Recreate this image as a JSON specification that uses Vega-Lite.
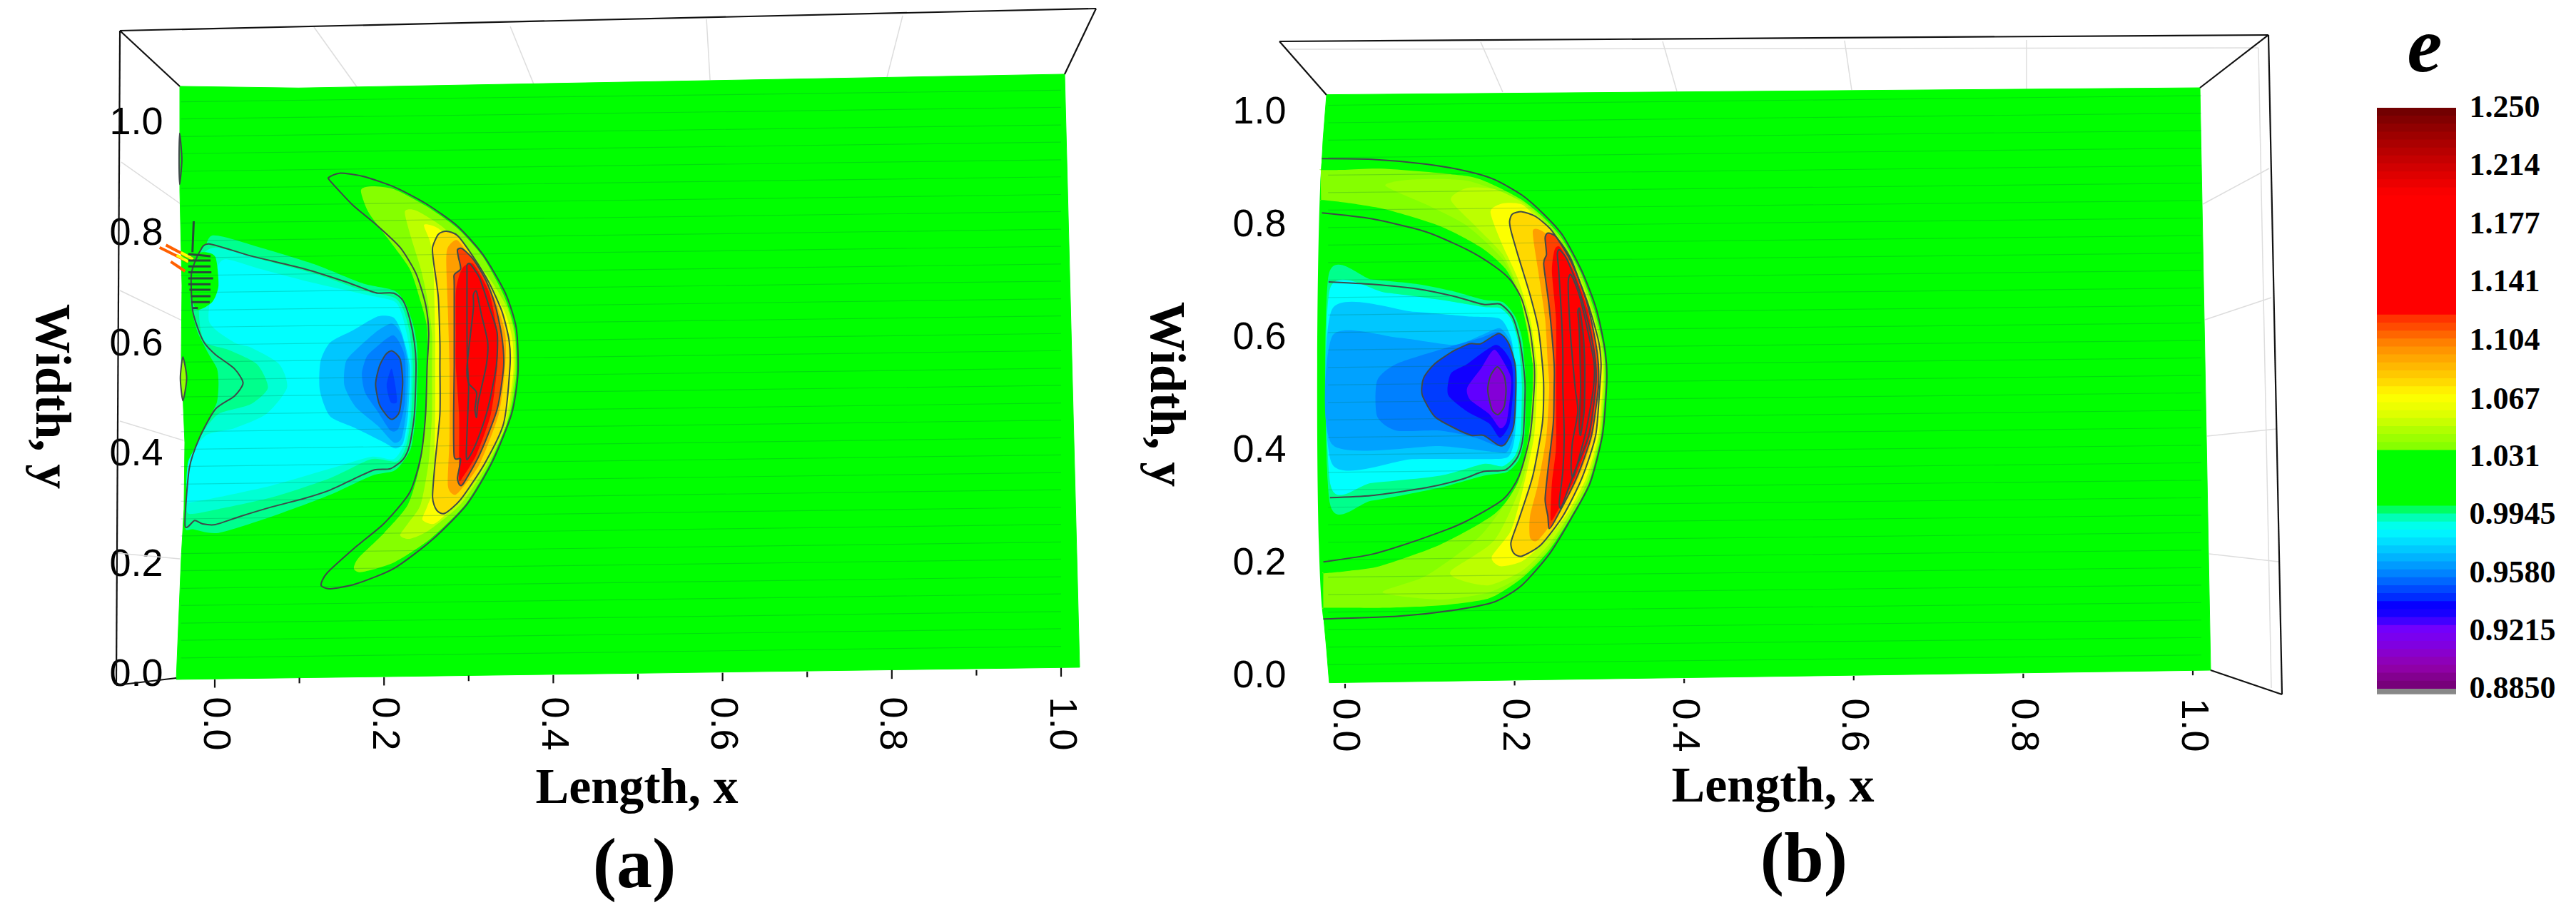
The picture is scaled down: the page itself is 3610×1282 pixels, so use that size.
{
"$schema":"https://vega.github.io/schema/vega-lite/v6.json",
"background":"white","padding":0,"autosize":"pad","bounds":"flush","spacing":0,
"config":{"view":{"stroke":null}},
"datasets":{
"surfA":[{"x":-0.0413,"y":1.066},{"x":-0.0413,"y":0.877},{"x":-0.0388,"y":0.705},{"x":-0.0396,"y":0.576},{"x":-0.0354,"y":0.42},{"x":-0.0363,"y":0.3},{"x":-0.0396,"y":0.213},{"x":-0.0455,"y":-0.009},{"x":1.0219,"y":0.013},{"x":1.0042,"y":1.088},{"x":0.0987,"y":1.063}],
"surfB":[{"x":-0.0218,"y":1.0308},{"x":-0.026,"y":0.9498},{"x":-0.0286,"y":0.8739},{"x":-0.0273,"y":0.8021},{"x":-0.0202,"y":0.7009},{"x":-0.0153,"y":0.6123},{"x":-0.0144,"y":0.5532},{"x":-0.0144,"y":0.511},{"x":-0.0153,"y":0.3844},{"x":-0.0179,"y":0.3169},{"x":-0.0234,"y":0.2367},{"x":-0.0256,"y":0.1734},{"x":-0.0256,"y":0.1101},{"x":-0.0218,"y":0.0469},{"x":-0.0186,"y":-0.0122},{"x":1.021,"y":0.0101},{"x":1.0084,"y":1.043}],
"polyA":[
{"s":"C0","e":1.0,"c":1,"x":0.135,"y":0.9012},{"s":"C0","e":1.0,"c":1,"x":0.1475,"y":0.9086},{"s":"C0","e":1.0,"c":1,"x":0.1738,"y":0.9034},{"s":"C0","e":1.0,"c":1,"x":0.2114,"y":0.884},{"s":"C0","e":1.0,"c":1,"x":0.2491,"y":0.8538},{"s":"C0","e":1.0,"c":1,"x":0.2867,"y":0.8128},{"s":"C0","e":1.0,"c":1,"x":0.3168,"y":0.7611},{"s":"C0","e":1.0,"c":1,"x":0.3431,"y":0.6921},{"s":"C0","e":1.0,"c":1,"x":0.3563,"y":0.6274},{"s":"C0","e":1.0,"c":1,"x":0.3582,"y":0.5455},{"s":"C0","e":1.0,"c":1,"x":0.3507,"y":0.4722},{"s":"C0","e":1.0,"c":1,"x":0.3281,"y":0.386},{"s":"C0","e":1.0,"c":1,"x":0.298,"y":0.3084},{"s":"C0","e":1.0,"c":1,"x":0.2566,"y":0.2437},{"s":"C0","e":1.0,"c":1,"x":0.2114,"y":0.1919},{"s":"C0","e":1.0,"c":1,"x":0.1663,"y":0.1639},{"s":"C0","e":1.0,"c":1,"x":0.1362,"y":0.1553},{"s":"C0","e":1.0,"c":1,"x":0.1256,"y":0.1618},{"s":"C0","e":1.0,"c":1,"x":0.1324,"y":0.1833},{"s":"C0","e":1.0,"c":1,"x":0.1663,"y":0.2308},{"s":"C0","e":1.0,"c":1,"x":0.2001,"y":0.2739},{"s":"C0","e":1.0,"c":1,"x":0.2303,"y":0.3299},{"s":"C0","e":1.0,"c":1,"x":0.2434,"y":0.3946},{"s":"C0","e":1.0,"c":1,"x":0.2491,"y":0.4722},{"s":"C0","e":1.0,"c":1,"x":0.2509,"y":0.5585},{"s":"C0","e":1.0,"c":1,"x":0.2528,"y":0.6188},{"s":"C0","e":1.0,"c":1,"x":0.2491,"y":0.6705},{"s":"C0","e":1.0,"c":1,"x":0.2378,"y":0.7266},{"s":"C0","e":1.0,"c":1,"x":0.219,"y":0.774},{"s":"C0","e":1.0,"c":1,"x":0.1926,"y":0.8128},{"s":"C0","e":1.0,"c":1,"x":0.1625,"y":0.8516},{"s":"C0","e":1.0,"c":1,"x":0.1362,"y":0.8948},
{"s":"L1","e":1.037,"x":0.1727,"y":0.8775},{"s":"L1","e":1.037,"x":0.1851,"y":0.8849},{"s":"L1","e":1.037,"x":0.2114,"y":0.8797},{"s":"L1","e":1.037,"x":0.2491,"y":0.8495},{"s":"L1","e":1.037,"x":0.2867,"y":0.8085},{"s":"L1","e":1.037,"x":0.3168,"y":0.7568},{"s":"L1","e":1.037,"x":0.3413,"y":0.6878},{"s":"L1","e":1.037,"x":0.3544,"y":0.6231},{"s":"L1","e":1.037,"x":0.3563,"y":0.5455},{"s":"L1","e":1.037,"x":0.3488,"y":0.4722},{"s":"L1","e":1.037,"x":0.3262,"y":0.386},{"s":"L1","e":1.037,"x":0.2961,"y":0.3084},{"s":"L1","e":1.037,"x":0.2547,"y":0.2458},{"s":"L1","e":1.037,"x":0.2114,"y":0.2027},{"s":"L1","e":1.037,"x":0.1738,"y":0.1855},{"s":"L1","e":1.037,"x":0.1644,"y":0.1919},{"s":"L1","e":1.037,"x":0.17,"y":0.2114},{"s":"L1","e":1.037,"x":0.2001,"y":0.2566},{"s":"L1","e":1.037,"x":0.2284,"y":0.3084},{"s":"L1","e":1.037,"x":0.2434,"y":0.386},{"s":"L1","e":1.037,"x":0.2491,"y":0.4722},{"s":"L1","e":1.037,"x":0.2509,"y":0.5585},{"s":"L1","e":1.037,"x":0.2509,"y":0.6274},{"s":"L1","e":1.037,"x":0.2434,"y":0.6749},{"s":"L1","e":1.037,"x":0.2303,"y":0.7352},{"s":"L1","e":1.037,"x":0.2039,"y":0.7913},{"s":"L1","e":1.037,"x":0.1813,"y":0.8387},
{"s":"L2","e":1.05,"x":0.2246,"y":0.8387},{"s":"L2","e":1.05,"x":0.2378,"y":0.8409},{"s":"L2","e":1.05,"x":0.2679,"y":0.8128},{"s":"L2","e":1.05,"x":0.2942,"y":0.774},{"s":"L2","e":1.05,"x":0.3206,"y":0.7266},{"s":"L2","e":1.05,"x":0.345,"y":0.6662},{"s":"L2","e":1.05,"x":0.3544,"y":0.6102},{"s":"L2","e":1.05,"x":0.3544,"y":0.5455},{"s":"L2","e":1.05,"x":0.345,"y":0.455},{"s":"L2","e":1.05,"x":0.3206,"y":0.3774},{"s":"L2","e":1.05,"x":0.2905,"y":0.3084},{"s":"L2","e":1.05,"x":0.2528,"y":0.2609},{"s":"L2","e":1.05,"x":0.2303,"y":0.2458},{"s":"L2","e":1.05,"x":0.219,"y":0.2523},{"s":"L2","e":1.05,"x":0.2284,"y":0.2739},{"s":"L2","e":1.05,"x":0.2434,"y":0.3084},{"s":"L2","e":1.05,"x":0.2528,"y":0.386},{"s":"L2","e":1.05,"x":0.2566,"y":0.4722},{"s":"L2","e":1.05,"x":0.2566,"y":0.5585},{"s":"L2","e":1.05,"x":0.2566,"y":0.6188},{"s":"L2","e":1.05,"x":0.2509,"y":0.6835},{"s":"L2","e":1.05,"x":0.2434,"y":0.7352},{"s":"L2","e":1.05,"x":0.2321,"y":0.7913},
{"s":"L3","e":1.068,"x":0.2472,"y":0.815},{"s":"L3","e":1.068,"x":0.2641,"y":0.8085},{"s":"L3","e":1.068,"x":0.2905,"y":0.7697},{"s":"L3","e":1.068,"x":0.3168,"y":0.7223},{"s":"L3","e":1.068,"x":0.3413,"y":0.6619},{"s":"L3","e":1.068,"x":0.3514,"y":0.6102},{"s":"L3","e":1.068,"x":0.3526,"y":0.5455},{"s":"L3","e":1.068,"x":0.3431,"y":0.4593},{"s":"L3","e":1.068,"x":0.3168,"y":0.3774},{"s":"L3","e":1.068,"x":0.2867,"y":0.3127},{"s":"L3","e":1.068,"x":0.2604,"y":0.2739},{"s":"L3","e":1.068,"x":0.2453,"y":0.2803},{"s":"L3","e":1.068,"x":0.2509,"y":0.3041},{"s":"L3","e":1.068,"x":0.2585,"y":0.3429},{"s":"L3","e":1.068,"x":0.2604,"y":0.4722},{"s":"L3","e":1.068,"x":0.2604,"y":0.5585},{"s":"L3","e":1.068,"x":0.2604,"y":0.6188},{"s":"L3","e":1.068,"x":0.2585,"y":0.7266},{"s":"L3","e":1.068,"x":0.2547,"y":0.7827},
{"s":"L4","e":1.078,"c":1,"x":0.2573,"y":0.774},{"s":"L4","e":1.078,"c":1,"x":0.2641,"y":0.7977},{"s":"L4","e":1.078,"c":1,"x":0.2735,"y":0.8033},{"s":"L4","e":1.078,"c":1,"x":0.2867,"y":0.7956},{"s":"L4","e":1.078,"c":1,"x":0.3055,"y":0.7568},{"s":"L4","e":1.078,"c":1,"x":0.3243,"y":0.7094},{"s":"L4","e":1.078,"c":1,"x":0.3394,"y":0.6576},{"s":"L4","e":1.078,"c":1,"x":0.3477,"y":0.6058},{"s":"L4","e":1.078,"c":1,"x":0.3488,"y":0.5585},{"s":"L4","e":1.078,"c":1,"x":0.3413,"y":0.455},{"s":"L4","e":1.078,"c":1,"x":0.3187,"y":0.3817},{"s":"L4","e":1.078,"c":1,"x":0.2905,"y":0.317},{"s":"L4","e":1.078,"c":1,"x":0.2717,"y":0.292},{"s":"L4","e":1.078,"c":1,"x":0.2622,"y":0.2976},{"s":"L4","e":1.078,"c":1,"x":0.2573,"y":0.3213},{"s":"L4","e":1.078,"c":1,"x":0.2604,"y":0.386},{"s":"L4","e":1.078,"c":1,"x":0.266,"y":0.4722},{"s":"L4","e":1.078,"c":1,"x":0.266,"y":0.5585},{"s":"L4","e":1.078,"c":1,"x":0.266,"y":0.6015},{"s":"L4","e":1.078,"c":1,"x":0.2641,"y":0.6835},{"s":"L4","e":1.078,"c":1,"x":0.2585,"y":0.7482},
{"s":"L5","e":1.095,"x":0.2754,"y":0.774},{"s":"L5","e":1.095,"x":0.2867,"y":0.787},{"s":"L5","e":1.095,"x":0.3055,"y":0.7482},{"s":"L5","e":1.095,"x":0.33,"y":0.6835},{"s":"L5","e":1.095,"x":0.3431,"y":0.6188},{"s":"L5","e":1.095,"x":0.3431,"y":0.5585},{"s":"L5","e":1.095,"x":0.3356,"y":0.4722},{"s":"L5","e":1.095,"x":0.313,"y":0.3817},{"s":"L5","e":1.095,"x":0.2905,"y":0.3343},{"s":"L5","e":1.095,"x":0.2829,"y":0.3256},{"s":"L5","e":1.095,"x":0.2754,"y":0.3429},{"s":"L5","e":1.095,"x":0.2773,"y":0.4291},{"s":"L5","e":1.095,"x":0.2773,"y":0.5585},{"s":"L5","e":1.095,"x":0.2754,"y":0.6619},{"s":"L5","e":1.095,"x":0.2735,"y":0.7482},
{"s":"L6","e":1.115,"c":1,"x":0.2867,"y":0.7697},{"s":"L6","e":1.115,"c":1,"x":0.2923,"y":0.7719},{"s":"L6","e":1.115,"c":1,"x":0.3055,"y":0.7525},{"s":"L6","e":1.115,"c":1,"x":0.3206,"y":0.7137},{"s":"L6","e":1.115,"c":1,"x":0.3319,"y":0.6662},{"s":"L6","e":1.115,"c":1,"x":0.3394,"y":0.6102},{"s":"L6","e":1.115,"c":1,"x":0.3413,"y":0.5585},{"s":"L6","e":1.115,"c":1,"x":0.3337,"y":0.4809},{"s":"L6","e":1.115,"c":1,"x":0.313,"y":0.3989},{"s":"L6","e":1.115,"c":1,"x":0.2942,"y":0.3472},{"s":"L6","e":1.115,"c":1,"x":0.2897,"y":0.3429},{"s":"L6","e":1.115,"c":1,"x":0.2867,"y":0.3558},{"s":"L6","e":1.115,"c":1,"x":0.2905,"y":0.3903},{"s":"L6","e":1.115,"c":1,"x":0.2829,"y":0.3946},{"s":"L6","e":1.115,"c":1,"x":0.2822,"y":0.4722},{"s":"L6","e":1.115,"c":1,"x":0.2829,"y":0.5585},{"s":"L6","e":1.115,"c":1,"x":0.2829,"y":0.705},{"s":"L6","e":1.115,"c":1,"x":0.2829,"y":0.7244},{"s":"L6","e":1.115,"c":1,"x":0.2905,"y":0.7352},{"s":"L6","e":1.115,"c":1,"x":0.2878,"y":0.7568},
{"s":"L7","e":1.13,"x":0.2942,"y":0.7396},{"s":"L7","e":1.13,"x":0.3055,"y":0.7438},{"s":"L7","e":1.13,"x":0.3243,"y":0.6921},{"s":"L7","e":1.13,"x":0.3337,"y":0.6188},{"s":"L7","e":1.13,"x":0.3337,"y":0.5585},{"s":"L7","e":1.13,"x":0.3262,"y":0.4722},{"s":"L7","e":1.13,"x":0.3093,"y":0.3989},{"s":"L7","e":1.13,"x":0.2923,"y":0.3558},{"s":"L7","e":1.13,"x":0.2886,"y":0.3515},{"s":"L7","e":1.13,"x":0.2886,"y":0.386},{"s":"L7","e":1.13,"x":0.2886,"y":0.4722},{"s":"L7","e":1.13,"x":0.2848,"y":0.5585},{"s":"L7","e":1.13,"x":0.2848,"y":0.6188},{"s":"L7","e":1.13,"x":0.2848,"y":0.6921},{"s":"L7","e":1.13,"x":0.2886,"y":0.7223},
{"s":"L8","e":1.14,"c":1,"x":0.298,"y":0.7417},{"s":"L8","e":1.14,"c":1,"x":0.3018,"y":0.7438},{"s":"L8","e":1.14,"c":1,"x":0.313,"y":0.718},{"s":"L8","e":1.14,"c":1,"x":0.3243,"y":0.6662},{"s":"L8","e":1.14,"c":1,"x":0.3337,"y":0.6188},{"s":"L8","e":1.14,"c":1,"x":0.3326,"y":0.5585},{"s":"L8","e":1.14,"c":1,"x":0.3225,"y":0.4809},{"s":"L8","e":1.14,"c":1,"x":0.3093,"y":0.4205},{"s":"L8","e":1.14,"c":1,"x":0.2999,"y":0.3925},{"s":"L8","e":1.14,"c":1,"x":0.2972,"y":0.3989},{"s":"L8","e":1.14,"c":1,"x":0.2999,"y":0.5154},{"s":"L8","e":1.14,"c":1,"x":0.2987,"y":0.5585},{"s":"L8","e":1.14,"c":1,"x":0.298,"y":0.6188},{"s":"L8","e":1.14,"c":1,"x":0.298,"y":0.7266},
{"s":"L9","e":1.145,"c":1,"x":0.3055,"y":0.6878},{"s":"L9","e":1.145,"c":1,"x":0.3093,"y":0.6943},{"s":"L9","e":1.145,"c":1,"x":0.3149,"y":0.6533},{"s":"L9","e":1.145,"c":1,"x":0.3225,"y":0.6015},{"s":"L9","e":1.145,"c":1,"x":0.3206,"y":0.5585},{"s":"L9","e":1.145,"c":1,"x":0.3112,"y":0.4938},{"s":"L9","e":1.145,"c":1,"x":0.3093,"y":0.4658},{"s":"L9","e":1.145,"c":1,"x":0.3074,"y":0.4809},{"s":"L9","e":1.145,"c":1,"x":0.3093,"y":0.511},{"s":"L9","e":1.145,"c":1,"x":0.2999,"y":0.5283},{"s":"L9","e":1.145,"c":1,"x":0.298,"y":0.5585},{"s":"L9","e":1.145,"c":1,"x":0.3055,"y":0.6619},
{"s":"B0","e":0.9955,"x":-0.0031,"y":0.7956},{"s":"B0","e":0.9955,"x":0.0534,"y":0.774},{"s":"B0","e":0.9955,"x":0.1173,"y":0.7438},{"s":"B0","e":0.9955,"x":0.1738,"y":0.7094},{"s":"B0","e":0.9955,"x":0.2114,"y":0.6964},{"s":"B0","e":0.9955,"x":0.2246,"y":0.6749},{"s":"B0","e":0.9955,"x":0.234,"y":0.636},{"s":"B0","e":0.9955,"x":0.2385,"y":0.6015},{"s":"B0","e":0.9955,"x":0.2397,"y":0.5585},{"s":"B0","e":0.9955,"x":0.2378,"y":0.4722},{"s":"B0","e":0.9955,"x":0.2321,"y":0.4119},{"s":"B0","e":0.9955,"x":0.2227,"y":0.386},{"s":"B0","e":0.9955,"x":0.2114,"y":0.3687},{"s":"B0","e":0.9955,"x":0.1851,"y":0.3601},{"s":"B0","e":0.9955,"x":0.1362,"y":0.3256},{"s":"B0","e":0.9955,"x":0.0684,"y":0.2868},{"s":"B0","e":0.9955,"x":0.0044,"y":0.2566},{"s":"B0","e":0.9955,"x":-0.0257,"y":0.2631},{"s":"B0","e":0.9955,"x":-0.0351,"y":0.2674},{"s":"B0","e":0.9955,"x":-0.0302,"y":0.3601},{"s":"B0","e":0.9955,"x":-0.0181,"y":0.4205},{"s":"B0","e":0.9955,"x":-0.0069,"y":0.4636},{"s":"B0","e":0.9955,"x":0.0026,"y":0.4938},{"s":"B0","e":0.9955,"x":0.0044,"y":0.5283},{"s":"B0","e":0.9955,"x":0.0026,"y":0.5542},{"s":"B0","e":0.9955,"x":-0.0069,"y":0.58},{"s":"B0","e":0.9955,"x":-0.0144,"y":0.6016},{"s":"B0","e":0.9955,"x":-0.0219,"y":0.6274},{"s":"B0","e":0.9955,"x":-0.0287,"y":0.6835},{"s":"B0","e":0.9955,"x":-0.0144,"y":0.7482},
{"s":"BL","e":0.9956,"c":1,"x":-0.0069,"y":0.7805},{"s":"BL","e":0.9956,"c":1,"x":0.0421,"y":0.7589},{"s":"BL","e":0.9956,"c":1,"x":0.106,"y":0.7352},{"s":"BL","e":0.9956,"c":1,"x":0.155,"y":0.7115},{"s":"BL","e":0.9956,"c":1,"x":0.1813,"y":0.6964},{"s":"BL","e":0.9956,"c":1,"x":0.1926,"y":0.6912},{"s":"BL","e":0.9956,"c":1,"x":0.2114,"y":0.6912},{"s":"BL","e":0.9956,"c":1,"x":0.2227,"y":0.677},{"s":"BL","e":0.9956,"c":1,"x":0.2303,"y":0.6447},{"s":"BL","e":0.9956,"c":1,"x":0.2359,"y":0.6015},{"s":"BL","e":0.9956,"c":1,"x":0.2378,"y":0.5585},{"s":"BL","e":0.9956,"c":1,"x":0.2359,"y":0.4722},{"s":"BL","e":0.9956,"c":1,"x":0.2303,"y":0.4162},{"s":"BL","e":0.9956,"c":1,"x":0.2227,"y":0.3903},{"s":"BL","e":0.9956,"c":1,"x":0.2077,"y":0.3731},{"s":"BL","e":0.9956,"c":1,"x":0.1888,"y":0.3709},{"s":"BL","e":0.9956,"c":1,"x":0.1663,"y":0.3558},{"s":"BL","e":0.9956,"c":1,"x":0.1362,"y":0.3343},{"s":"BL","e":0.9956,"c":1,"x":0.106,"y":0.3192},{"s":"BL","e":0.9956,"c":1,"x":0.0684,"y":0.3041},{"s":"BL","e":0.9956,"c":1,"x":0.0308,"y":0.2868},{"s":"BL","e":0.9956,"c":1,"x":0.0007,"y":0.2717},{"s":"BL","e":0.9956,"c":1,"x":-0.0144,"y":0.273},{"s":"BL","e":0.9956,"c":1,"x":-0.0238,"y":0.279},{"s":"BL","e":0.9956,"c":1,"x":-0.0351,"y":0.2696},{"s":"BL","e":0.9956,"c":1,"x":-0.0302,"y":0.3731},{"s":"BL","e":0.9956,"c":1,"x":-0.0181,"y":0.4291},{"s":"BL","e":0.9956,"c":1,"x":0.0007,"y":0.4809},{"s":"BL","e":0.9956,"c":1,"x":0.0232,"y":0.5046},{"s":"BL","e":0.9956,"c":1,"x":0.0334,"y":0.5283},{"s":"BL","e":0.9956,"c":1,"x":0.0232,"y":0.5542},{"s":"BL","e":0.9956,"c":1,"x":0.0007,"y":0.58},{"s":"BL","e":0.9956,"c":1,"x":-0.0125,"y":0.6016},{"s":"BL","e":0.9956,"c":1,"x":-0.02,"y":0.6274},{"s":"BL","e":0.9956,"c":1,"x":-0.0264,"y":0.6619},{"s":"BL","e":0.9956,"c":1,"x":-0.0276,"y":0.7266},{"s":"BL","e":0.9956,"c":1,"x":-0.0181,"y":0.7654},
{"s":"B1","e":0.99,"x":0.0007,"y":0.774},{"s":"B1","e":0.99,"x":0.0534,"y":0.7525},{"s":"B1","e":0.99,"x":0.1173,"y":0.7266},{"s":"B1","e":0.99,"x":0.1738,"y":0.6964},{"s":"B1","e":0.99,"x":0.2114,"y":0.6835},{"s":"B1","e":0.99,"x":0.2227,"y":0.6619},{"s":"B1","e":0.99,"x":0.2303,"y":0.6188},{"s":"B1","e":0.99,"x":0.234,"y":0.5585},{"s":"B1","e":0.99,"x":0.2321,"y":0.4722},{"s":"B1","e":0.99,"x":0.2265,"y":0.4162},{"s":"B1","e":0.99,"x":0.2152,"y":0.386},{"s":"B1","e":0.99,"x":0.1851,"y":0.3903},{"s":"B1","e":0.99,"x":0.1362,"y":0.3558},{"s":"B1","e":0.99,"x":0.0684,"y":0.3213},{"s":"B1","e":0.99,"x":0.0044,"y":0.2997},{"s":"B1","e":0.99,"x":-0.0257,"y":0.2911},{"s":"B1","e":0.99,"x":-0.0332,"y":0.2997},{"s":"B1","e":0.99,"x":-0.0295,"y":0.386},{"s":"B1","e":0.99,"x":-0.0144,"y":0.4377},{"s":"B1","e":0.99,"x":0.0044,"y":0.4722},{"s":"B1","e":0.99,"x":0.0421,"y":0.4895},{"s":"B1","e":0.99,"x":0.0628,"y":0.5197},{"s":"B1","e":0.99,"x":0.0496,"y":0.5628},{"s":"B1","e":0.99,"x":0.0157,"y":0.5887},{"s":"B1","e":0.99,"x":-0.0106,"y":0.6016},{"s":"B1","e":0.99,"x":-0.0181,"y":0.6403},{"s":"B1","e":0.99,"x":-0.0181,"y":0.7482},
{"s":"B2","e":0.985,"x":0.012,"y":0.7525},{"s":"B2","e":0.985,"x":0.0534,"y":0.7352},{"s":"B2","e":0.985,"x":0.1173,"y":0.7094},{"s":"B2","e":0.985,"x":0.1738,"y":0.6899},{"s":"B2","e":0.985,"x":0.2114,"y":0.677},{"s":"B2","e":0.985,"x":0.2209,"y":0.6533},{"s":"B2","e":0.985,"x":0.2284,"y":0.6058},{"s":"B2","e":0.985,"x":0.2321,"y":0.5585},{"s":"B2","e":0.985,"x":0.2303,"y":0.4722},{"s":"B2","e":0.985,"x":0.2246,"y":0.4205},{"s":"B2","e":0.985,"x":0.2114,"y":0.3903},{"s":"B2","e":0.985,"x":0.1851,"y":0.3946},{"s":"B2","e":0.985,"x":0.1362,"y":0.3731},{"s":"B2","e":0.985,"x":0.0684,"y":0.3429},{"s":"B2","e":0.985,"x":0.0044,"y":0.3213},{"s":"B2","e":0.985,"x":-0.0257,"y":0.3127},{"s":"B2","e":0.985,"x":-0.0332,"y":0.317},{"s":"B2","e":0.985,"x":-0.0313,"y":0.386},{"s":"B2","e":0.985,"x":-0.0106,"y":0.4334},{"s":"B2","e":0.985,"x":0.0232,"y":0.4464},{"s":"B2","e":0.985,"x":0.0609,"y":0.4722},{"s":"B2","e":0.985,"x":0.0853,"y":0.5197},{"s":"B2","e":0.985,"x":0.0759,"y":0.5628},{"s":"B2","e":0.985,"x":0.0421,"y":0.593},{"s":"B2","e":0.985,"x":0.0232,"y":0.6016},{"s":"B2","e":0.985,"x":-0.0069,"y":0.6403},{"s":"B2","e":0.985,"x":0.0007,"y":0.7266},
{"s":"B3","e":0.972,"x":0.1362,"y":0.6015},{"s":"B3","e":0.972,"x":0.1625,"y":0.6231},{"s":"B3","e":0.972,"x":0.1926,"y":0.649},{"s":"B3","e":0.972,"x":0.2114,"y":0.6469},{"s":"B3","e":0.972,"x":0.2209,"y":0.6188},{"s":"B3","e":0.972,"x":0.2303,"y":0.5585},{"s":"B3","e":0.972,"x":0.2284,"y":0.4722},{"s":"B3","e":0.972,"x":0.2227,"y":0.4205},{"s":"B3","e":0.972,"x":0.2133,"y":0.4097},{"s":"B3","e":0.972,"x":0.2001,"y":0.4205},{"s":"B3","e":0.972,"x":0.1663,"y":0.4464},{"s":"B3","e":0.972,"x":0.1362,"y":0.4679},{"s":"B3","e":0.972,"x":0.1241,"y":0.5154},{"s":"B3","e":0.972,"x":0.1249,"y":0.5671},
{"s":"B4","e":0.964,"x":0.1926,"y":0.6231},{"s":"B4","e":0.964,"x":0.2095,"y":0.636},{"s":"B4","e":0.964,"x":0.2209,"y":0.6145},{"s":"B4","e":0.964,"x":0.2284,"y":0.5585},{"s":"B4","e":0.964,"x":0.2265,"y":0.4809},{"s":"B4","e":0.964,"x":0.2209,"y":0.4291},{"s":"B4","e":0.964,"x":0.2114,"y":0.4205},{"s":"B4","e":0.964,"x":0.1926,"y":0.4507},{"s":"B4","e":0.964,"x":0.1663,"y":0.4852},{"s":"B4","e":0.964,"x":0.1531,"y":0.524},{"s":"B4","e":0.964,"x":0.155,"y":0.5671},{"s":"B4","e":0.964,"x":0.17,"y":0.593},
{"s":"B5","e":0.957,"x":0.1907,"y":0.593},{"s":"B5","e":0.957,"x":0.2114,"y":0.6145},{"s":"B5","e":0.957,"x":0.2246,"y":0.5757},{"s":"B5","e":0.957,"x":0.2246,"y":0.4938},{"s":"B5","e":0.957,"x":0.2171,"y":0.4464},{"s":"B5","e":0.957,"x":0.2077,"y":0.442},{"s":"B5","e":0.957,"x":0.1926,"y":0.4765},{"s":"B5","e":0.957,"x":0.1776,"y":0.511},{"s":"B5","e":0.957,"x":0.1738,"y":0.5455},{"s":"B5","e":0.957,"x":0.1794,"y":0.5757},
{"s":"B6","e":0.95,"c":1,"x":0.2095,"y":0.5865},{"s":"B6","e":0.95,"c":1,"x":0.219,"y":0.5714},{"s":"B6","e":0.95,"c":1,"x":0.222,"y":0.5283},{"s":"B6","e":0.95,"c":1,"x":0.2182,"y":0.4765},{"s":"B6","e":0.95,"c":1,"x":0.2103,"y":0.4627},{"s":"B6","e":0.95,"c":1,"x":0.2039,"y":0.4679},{"s":"B6","e":0.95,"c":1,"x":0.1945,"y":0.4895},{"s":"B6","e":0.95,"c":1,"x":0.19,"y":0.5261},{"s":"B6","e":0.95,"c":1,"x":0.1945,"y":0.5585},{"s":"B6","e":0.95,"c":1,"x":0.202,"y":0.58},
{"s":"B7","e":0.945,"x":0.2088,"y":0.5542},{"s":"B7","e":0.945,"x":0.2133,"y":0.524},{"s":"B7","e":0.945,"x":0.2152,"y":0.4938},{"s":"B7","e":0.945,"x":0.2077,"y":0.4938},{"s":"B7","e":0.945,"x":0.2031,"y":0.524},
{"s":"E1","e":1.04,"c":1,"x":-0.0377,"y":0.5757},{"s":"E1","e":1.04,"c":1,"x":-0.0332,"y":0.5369},{"s":"E1","e":1.04,"c":1,"x":-0.0377,"y":0.496},{"s":"E1","e":1.04,"c":1,"x":-0.0407,"y":0.5369},
{"s":"E2","e":1.0,"c":1,"x":-0.0415,"y":0.981},{"s":"E2","e":1.0,"c":1,"x":-0.0389,"y":0.9336},{"s":"E2","e":1.0,"c":1,"x":-0.0415,"y":0.8883},{"s":"E2","e":1.0,"c":1,"x":-0.0422,"y":0.9336},
{"s":"P","e":1.0,"x":-0.0351,"y":0.7482},{"s":"P","e":1.0,"x":-0.0144,"y":0.7654},{"s":"P","e":1.0,"x":0.0007,"y":0.7568},{"s":"P","e":1.0,"x":0.0044,"y":0.705},{"s":"P","e":1.0,"x":-0.0031,"y":0.6749},{"s":"P","e":1.0,"x":-0.0219,"y":0.6619},{"s":"P","e":1.0,"x":-0.0332,"y":0.7137}
],
"polyB":[
{"s":"C0","e":1.0,"c":2,"x":-0.0273,"y":0.9173},{"s":"C0","e":1.0,"c":2,"x":0.0314,"y":0.9161},{"s":"C0","e":1.0,"c":2,"x":0.0958,"y":0.9076},{"s":"C0","e":1.0,"c":2,"x":0.1441,"y":0.895},{"s":"C0","e":1.0,"c":2,"x":0.1764,"y":0.8802},{"s":"C0","e":1.0,"c":2,"x":0.2086,"y":0.8528},{"s":"C0","e":1.0,"c":2,"x":0.2343,"y":0.819},{"s":"C0","e":1.0,"c":2,"x":0.2569,"y":0.781},{"s":"C0","e":1.0,"c":2,"x":0.2794,"y":0.7177},{"s":"C0","e":1.0,"c":2,"x":0.2956,"y":0.6545},{"s":"C0","e":1.0,"c":2,"x":0.3052,"y":0.5912},{"s":"C0","e":1.0,"c":2,"x":0.3084,"y":0.5532},{"s":"C0","e":1.0,"c":2,"x":0.3084,"y":0.511},{"s":"C0","e":1.0,"c":2,"x":0.3036,"y":0.4266},{"s":"C0","e":1.0,"c":2,"x":0.2891,"y":0.3422},{"s":"C0","e":1.0,"c":2,"x":0.2666,"y":0.2789},{"s":"C0","e":1.0,"c":2,"x":0.2408,"y":0.2156},{"s":"C0","e":1.0,"c":2,"x":0.2086,"y":0.1608},{"s":"C0","e":1.0,"c":2,"x":0.1764,"y":0.1313},{"s":"C0","e":1.0,"c":2,"x":0.128,"y":0.1165},{"s":"C0","e":1.0,"c":2,"x":0.0636,"y":0.1059},{"s":"C0","e":1.0,"c":2,"x":-0.0256,"y":0.1009},
{"s":"C1","e":1.0,"c":2,"x":-0.0256,"y":0.2021},{"s":"C1","e":1.0,"c":2,"x":0.0314,"y":0.2156},{"s":"C1","e":1.0,"c":2,"x":0.0861,"y":0.241},{"s":"C1","e":1.0,"c":2,"x":0.1377,"y":0.2705},{"s":"C1","e":1.0,"c":2,"x":0.186,"y":0.3127},{"s":"C1","e":1.0,"c":2,"x":0.2053,"y":0.3549},{"s":"C1","e":1.0,"c":2,"x":0.2182,"y":0.4266},{"s":"C1","e":1.0,"c":2,"x":0.2231,"y":0.511},{"s":"C1","e":1.0,"c":2,"x":0.2231,"y":0.5532},{"s":"C1","e":1.0,"c":2,"x":0.2182,"y":0.6123},{"s":"C1","e":1.0,"c":2,"x":0.2086,"y":0.6671},{"s":"C1","e":1.0,"c":2,"x":0.1957,"y":0.7009},{"s":"C1","e":1.0,"c":2,"x":0.1764,"y":0.7262},{"s":"C1","e":1.0,"c":2,"x":0.1441,"y":0.7557},{"s":"C1","e":1.0,"c":2,"x":0.0958,"y":0.7874},{"s":"C1","e":1.0,"c":2,"x":0.0314,"y":0.8106},{"s":"C1","e":1.0,"c":2,"x":-0.0273,"y":0.8211},
{"s":"L1","e":1.037,"x":-0.0286,"y":0.8971},{"s":"L1","e":1.037,"x":-0.0286,"y":0.8971},{"s":"L1","e":1.037,"x":0.0,"y":0.8975},{"s":"L1","e":1.037,"x":0.0475,"y":0.8992},{"s":"L1","e":1.037,"x":0.1441,"y":0.8865},{"s":"L1","e":1.037,"x":0.1764,"y":0.8697},{"s":"L1","e":1.037,"x":0.2086,"y":0.8443},{"s":"L1","e":1.037,"x":0.2327,"y":0.8148},{"s":"L1","e":1.037,"x":0.2553,"y":0.7768},{"s":"L1","e":1.037,"x":0.2778,"y":0.7157},{"s":"L1","e":1.037,"x":0.2939,"y":0.6502},{"s":"L1","e":1.037,"x":0.3036,"y":0.5912},{"s":"L1","e":1.037,"x":0.3068,"y":0.5532},{"s":"L1","e":1.037,"x":0.3068,"y":0.511},{"s":"L1","e":1.037,"x":0.302,"y":0.4266},{"s":"L1","e":1.037,"x":0.2875,"y":0.3422},{"s":"L1","e":1.037,"x":0.265,"y":0.2789},{"s":"L1","e":1.037,"x":0.2392,"y":0.2199},{"s":"L1","e":1.037,"x":0.2086,"y":0.1734},{"s":"L1","e":1.037,"x":0.1699,"y":0.1376},{"s":"L1","e":1.037,"x":0.1119,"y":0.1249},{"s":"L1","e":1.037,"x":0.0475,"y":0.1207},{"s":"L1","e":1.037,"x":0.0,"y":0.1207},{"s":"L1","e":1.037,"x":-0.0256,"y":0.1207},{"s":"L1","e":1.037,"x":-0.0256,"y":0.1207},{"s":"L1","e":1.037,"x":-0.0258,"y":0.15},{"s":"L1","e":1.037,"x":-0.0256,"y":0.1819},{"s":"L1","e":1.037,"x":-0.0256,"y":0.1819},{"s":"L1","e":1.037,"x":0.0,"y":0.1855},{"s":"L1","e":1.037,"x":0.041,"y":0.1945},{"s":"L1","e":1.037,"x":0.1119,"y":0.2325},{"s":"L1","e":1.037,"x":0.1764,"y":0.2874},{"s":"L1","e":1.037,"x":0.2037,"y":0.3422},{"s":"L1","e":1.037,"x":0.2166,"y":0.4266},{"s":"L1","e":1.037,"x":0.2215,"y":0.511},{"s":"L1","e":1.037,"x":0.2215,"y":0.5532},{"s":"L1","e":1.037,"x":0.215,"y":0.6207},{"s":"L1","e":1.037,"x":0.2053,"y":0.6756},{"s":"L1","e":1.037,"x":0.1892,"y":0.722},{"s":"L1","e":1.037,"x":0.1602,"y":0.76},{"s":"L1","e":1.037,"x":0.1119,"y":0.7979},{"s":"L1","e":1.037,"x":0.0475,"y":0.8275},{"s":"L1","e":1.037,"x":0.0,"y":0.8395},{"s":"L1","e":1.037,"x":-0.0282,"y":0.8443},{"s":"L1","e":1.037,"x":-0.0282,"y":0.8443},{"s":"L1","e":1.037,"x":-0.0286,"y":0.87},
{"s":"L1b","e":1.043,"x":0.0475,"y":0.8697},{"s":"L1b","e":1.043,"x":0.0797,"y":0.8802},{"s":"L1b","e":1.043,"x":0.1441,"y":0.8781},{"s":"L1b","e":1.043,"x":0.2086,"y":0.8422},{"s":"L1b","e":1.043,"x":0.2327,"y":0.8106},{"s":"L1b","e":1.043,"x":0.2537,"y":0.7747},{"s":"L1b","e":1.043,"x":0.2762,"y":0.7135},{"s":"L1b","e":1.043,"x":0.2923,"y":0.646},{"s":"L1b","e":1.043,"x":0.302,"y":0.5891},{"s":"L1b","e":1.043,"x":0.3052,"y":0.5532},{"s":"L1b","e":1.043,"x":0.3052,"y":0.511},{"s":"L1b","e":1.043,"x":0.3004,"y":0.4266},{"s":"L1b","e":1.043,"x":0.2859,"y":0.3443},{"s":"L1b","e":1.043,"x":0.2633,"y":0.281},{"s":"L1b","e":1.043,"x":0.2376,"y":0.222},{"s":"L1b","e":1.043,"x":0.2086,"y":0.1777},{"s":"L1b","e":1.043,"x":0.1699,"y":0.1481},{"s":"L1b","e":1.043,"x":0.1119,"y":0.1355},{"s":"L1b","e":1.043,"x":0.0443,"y":0.1481},{"s":"L1b","e":1.043,"x":0.0958,"y":0.1777},{"s":"L1b","e":1.043,"x":0.1602,"y":0.2494},{"s":"L1b","e":1.043,"x":0.2037,"y":0.3422},{"s":"L1b","e":1.043,"x":0.2176,"y":0.4266},{"s":"L1b","e":1.043,"x":0.2215,"y":0.511},{"s":"L1b","e":1.043,"x":0.2215,"y":0.5532},{"s":"L1b","e":1.043,"x":0.2134,"y":0.6249},{"s":"L1b","e":1.043,"x":0.2037,"y":0.684},{"s":"L1b","e":1.043,"x":0.186,"y":0.7389},{"s":"L1b","e":1.043,"x":0.1441,"y":0.7979},{"s":"L1b","e":1.043,"x":0.0958,"y":0.8359},
{"s":"L2","e":1.05,"x":0.1248,"y":0.8443},{"s":"L2","e":1.05,"x":0.1441,"y":0.8654},{"s":"L2","e":1.05,"x":0.1764,"y":0.8633},{"s":"L2","e":1.05,"x":0.2086,"y":0.8401},{"s":"L2","e":1.05,"x":0.2311,"y":0.8106},{"s":"L2","e":1.05,"x":0.2537,"y":0.7726},{"s":"L2","e":1.05,"x":0.2762,"y":0.7114},{"s":"L2","e":1.05,"x":0.2923,"y":0.646},{"s":"L2","e":1.05,"x":0.302,"y":0.587},{"s":"L2","e":1.05,"x":0.3052,"y":0.5532},{"s":"L2","e":1.05,"x":0.3052,"y":0.511},{"s":"L2","e":1.05,"x":0.3004,"y":0.4266},{"s":"L2","e":1.05,"x":0.2859,"y":0.3464},{"s":"L2","e":1.05,"x":0.2633,"y":0.2832},{"s":"L2","e":1.05,"x":0.2376,"y":0.2283},{"s":"L2","e":1.05,"x":0.2086,"y":0.1861},{"s":"L2","e":1.05,"x":0.1699,"y":0.1608},{"s":"L2","e":1.05,"x":0.1377,"y":0.1692},{"s":"L2","e":1.05,"x":0.1248,"y":0.1861},{"s":"L2","e":1.05,"x":0.1764,"y":0.241},{"s":"L2","e":1.05,"x":0.2086,"y":0.3422},{"s":"L2","e":1.05,"x":0.2198,"y":0.4266},{"s":"L2","e":1.05,"x":0.2215,"y":0.511},{"s":"L2","e":1.05,"x":0.2215,"y":0.5532},{"s":"L2","e":1.05,"x":0.2134,"y":0.6333},{"s":"L2","e":1.05,"x":0.2037,"y":0.6882},{"s":"L2","e":1.05,"x":0.186,"y":0.7473},{"s":"L2","e":1.05,"x":0.1538,"y":0.7979},
{"s":"L3","e":1.068,"x":0.1715,"y":0.8232},{"s":"L3","e":1.068,"x":0.186,"y":0.838},{"s":"L3","e":1.068,"x":0.2086,"y":0.8359},{"s":"L3","e":1.068,"x":0.2295,"y":0.8064},{"s":"L3","e":1.068,"x":0.2521,"y":0.7684},{"s":"L3","e":1.068,"x":0.2746,"y":0.7051},{"s":"L3","e":1.068,"x":0.2907,"y":0.6418},{"s":"L3","e":1.068,"x":0.3004,"y":0.5827},{"s":"L3","e":1.068,"x":0.3036,"y":0.5532},{"s":"L3","e":1.068,"x":0.3036,"y":0.511},{"s":"L3","e":1.068,"x":0.2988,"y":0.4266},{"s":"L3","e":1.068,"x":0.2843,"y":0.3507},{"s":"L3","e":1.068,"x":0.2617,"y":0.2874},{"s":"L3","e":1.068,"x":0.236,"y":0.2388},{"s":"L3","e":1.068,"x":0.2086,"y":0.203},{"s":"L3","e":1.068,"x":0.1828,"y":0.1945},{"s":"L3","e":1.068,"x":0.1731,"y":0.2114},{"s":"L3","e":1.068,"x":0.1957,"y":0.2578},{"s":"L3","e":1.068,"x":0.2102,"y":0.3338},{"s":"L3","e":1.068,"x":0.2231,"y":0.4266},{"s":"L3","e":1.068,"x":0.2263,"y":0.511},{"s":"L3","e":1.068,"x":0.2263,"y":0.5532},{"s":"L3","e":1.068,"x":0.2182,"y":0.6333},{"s":"L3","e":1.068,"x":0.2037,"y":0.7051},{"s":"L3","e":1.068,"x":0.1844,"y":0.7684},
{"s":"L4","e":1.078,"c":1,"x":0.1941,"y":0.8064},{"s":"L4","e":1.078,"c":1,"x":0.1973,"y":0.819},{"s":"L4","e":1.078,"c":1,"x":0.2086,"y":0.8232},{"s":"L4","e":1.078,"c":1,"x":0.2247,"y":0.8148},{"s":"L4","e":1.078,"c":1,"x":0.244,"y":0.7895},{"s":"L4","e":1.078,"c":1,"x":0.2666,"y":0.7346},{"s":"L4","e":1.078,"c":1,"x":0.2859,"y":0.6629},{"s":"L4","e":1.078,"c":1,"x":0.2988,"y":0.5954},{"s":"L4","e":1.078,"c":1,"x":0.302,"y":0.5532},{"s":"L4","e":1.078,"c":1,"x":0.3004,"y":0.511},{"s":"L4","e":1.078,"c":1,"x":0.2956,"y":0.4266},{"s":"L4","e":1.078,"c":1,"x":0.2794,"y":0.3507},{"s":"L4","e":1.078,"c":1,"x":0.2569,"y":0.2832},{"s":"L4","e":1.078,"c":1,"x":0.2311,"y":0.2325},{"s":"L4","e":1.078,"c":1,"x":0.2086,"y":0.2123},{"s":"L4","e":1.078,"c":1,"x":0.1989,"y":0.2178},{"s":"L4","e":1.078,"c":1,"x":0.1957,"y":0.2367},{"s":"L4","e":1.078,"c":1,"x":0.2053,"y":0.2789},{"s":"L4","e":1.078,"c":1,"x":0.2215,"y":0.3549},{"s":"L4","e":1.078,"c":1,"x":0.2327,"y":0.4477},{"s":"L4","e":1.078,"c":1,"x":0.2343,"y":0.511},{"s":"L4","e":1.078,"c":1,"x":0.2327,"y":0.5532},{"s":"L4","e":1.078,"c":1,"x":0.2279,"y":0.6165},{"s":"L4","e":1.078,"c":1,"x":0.2182,"y":0.6756},{"s":"L4","e":1.078,"c":1,"x":0.2037,"y":0.7473},{"s":"L4","e":1.078,"c":1,"x":0.1957,"y":0.7895},
{"s":"L5","e":1.095,"x":0.2215,"y":0.7895},{"s":"L5","e":1.095,"x":0.236,"y":0.7853},{"s":"L5","e":1.095,"x":0.2569,"y":0.7431},{"s":"L5","e":1.095,"x":0.2794,"y":0.6671},{"s":"L5","e":1.095,"x":0.2939,"y":0.5954},{"s":"L5","e":1.095,"x":0.2988,"y":0.5532},{"s":"L5","e":1.095,"x":0.2988,"y":0.511},{"s":"L5","e":1.095,"x":0.2923,"y":0.4266},{"s":"L5","e":1.095,"x":0.2762,"y":0.3549},{"s":"L5","e":1.095,"x":0.2537,"y":0.2916},{"s":"L5","e":1.095,"x":0.2279,"y":0.241},{"s":"L5","e":1.095,"x":0.2182,"y":0.2452},{"s":"L5","e":1.095,"x":0.2182,"y":0.2832},{"s":"L5","e":1.095,"x":0.2279,"y":0.3422},{"s":"L5","e":1.095,"x":0.2376,"y":0.4266},{"s":"L5","e":1.095,"x":0.2408,"y":0.511},{"s":"L5","e":1.095,"x":0.2392,"y":0.5532},{"s":"L5","e":1.095,"x":0.236,"y":0.6333},{"s":"L5","e":1.095,"x":0.2279,"y":0.7177},
{"s":"L6","e":1.115,"c":1,"x":0.236,"y":0.7768},{"s":"L6","e":1.115,"c":1,"x":0.2392,"y":0.7853},{"s":"L6","e":1.115,"c":1,"x":0.2488,"y":0.7789},{"s":"L6","e":1.115,"c":1,"x":0.2666,"y":0.7389},{"s":"L6","e":1.115,"c":1,"x":0.2859,"y":0.6587},{"s":"L6","e":1.115,"c":1,"x":0.2956,"y":0.5912},{"s":"L6","e":1.115,"c":1,"x":0.2988,"y":0.5532},{"s":"L6","e":1.115,"c":1,"x":0.2988,"y":0.511},{"s":"L6","e":1.115,"c":1,"x":0.2907,"y":0.4266},{"s":"L6","e":1.115,"c":1,"x":0.273,"y":0.3507},{"s":"L6","e":1.115,"c":1,"x":0.2488,"y":0.2789},{"s":"L6","e":1.115,"c":1,"x":0.2408,"y":0.2612},{"s":"L6","e":1.115,"c":1,"x":0.2392,"y":0.2832},{"s":"L6","e":1.115,"c":1,"x":0.236,"y":0.3127},{"s":"L6","e":1.115,"c":1,"x":0.2392,"y":0.3633},{"s":"L6","e":1.115,"c":1,"x":0.2456,"y":0.4477},{"s":"L6","e":1.115,"c":1,"x":0.2466,"y":0.511},{"s":"L6","e":1.115,"c":1,"x":0.2466,"y":0.5532},{"s":"L6","e":1.115,"c":1,"x":0.2408,"y":0.6545},{"s":"L6","e":1.115,"c":1,"x":0.2343,"y":0.7304},{"s":"L6","e":1.115,"c":1,"x":0.2376,"y":0.7473},
{"s":"L7","e":1.13,"x":0.2472,"y":0.7557},{"s":"L7","e":1.13,"x":0.2537,"y":0.76},{"s":"L7","e":1.13,"x":0.2698,"y":0.7177},{"s":"L7","e":1.13,"x":0.2859,"y":0.6502},{"s":"L7","e":1.13,"x":0.2939,"y":0.5827},{"s":"L7","e":1.13,"x":0.2962,"y":0.5532},{"s":"L7","e":1.13,"x":0.2962,"y":0.511},{"s":"L7","e":1.13,"x":0.2891,"y":0.4266},{"s":"L7","e":1.13,"x":0.2698,"y":0.3464},{"s":"L7","e":1.13,"x":0.2472,"y":0.2832},{"s":"L7","e":1.13,"x":0.2424,"y":0.2789},{"s":"L7","e":1.13,"x":0.244,"y":0.3422},{"s":"L7","e":1.13,"x":0.2488,"y":0.4055},{"s":"L7","e":1.13,"x":0.2488,"y":0.511},{"s":"L7","e":1.13,"x":0.2488,"y":0.5532},{"s":"L7","e":1.13,"x":0.2488,"y":0.6333},{"s":"L7","e":1.13,"x":0.244,"y":0.7177},
{"s":"L8","e":1.14,"c":1,"x":0.2504,"y":0.7473},{"s":"L8","e":1.14,"c":1,"x":0.2527,"y":0.7557},{"s":"L8","e":1.14,"c":1,"x":0.2617,"y":0.7389},{"s":"L8","e":1.14,"c":1,"x":0.2762,"y":0.684},{"s":"L8","e":1.14,"c":1,"x":0.2891,"y":0.6123},{"s":"L8","e":1.14,"c":1,"x":0.2956,"y":0.5532},{"s":"L8","e":1.14,"c":1,"x":0.2956,"y":0.511},{"s":"L8","e":1.14,"c":1,"x":0.2875,"y":0.4266},{"s":"L8","e":1.14,"c":1,"x":0.2698,"y":0.3591},{"s":"L8","e":1.14,"c":1,"x":0.2553,"y":0.2996},{"s":"L8","e":1.14,"c":1,"x":0.2527,"y":0.3085},{"s":"L8","e":1.14,"c":1,"x":0.2569,"y":0.3633},{"s":"L8","e":1.14,"c":1,"x":0.2585,"y":0.4266},{"s":"L8","e":1.14,"c":1,"x":0.2569,"y":0.511},{"s":"L8","e":1.14,"c":1,"x":0.2569,"y":0.5701},{"s":"L8","e":1.14,"c":1,"x":0.2553,"y":0.6376},{"s":"L8","e":1.14,"c":1,"x":0.2521,"y":0.7177},
{"s":"L9","e":1.145,"c":1,"x":0.2633,"y":0.7009},{"s":"L9","e":1.145,"c":1,"x":0.2666,"y":0.7114},{"s":"L9","e":1.145,"c":1,"x":0.2762,"y":0.6756},{"s":"L9","e":1.145,"c":1,"x":0.2875,"y":0.6038},{"s":"L9","e":1.145,"c":1,"x":0.2939,"y":0.5532},{"s":"L9","e":1.145,"c":1,"x":0.293,"y":0.511},{"s":"L9","e":1.145,"c":1,"x":0.2843,"y":0.4351},{"s":"L9","e":1.145,"c":1,"x":0.2698,"y":0.3549},{"s":"L9","e":1.145,"c":1,"x":0.2666,"y":0.3675},{"s":"L9","e":1.145,"c":1,"x":0.2682,"y":0.414},{"s":"L9","e":1.145,"c":1,"x":0.2746,"y":0.4688},{"s":"L9","e":1.145,"c":1,"x":0.2714,"y":0.511},{"s":"L9","e":1.145,"c":1,"x":0.2666,"y":0.5912},{"s":"L9","e":1.145,"c":1,"x":0.264,"y":0.6545},
{"s":"L10","e":1.21,"c":1,"x":0.2746,"y":0.646},{"s":"L10","e":1.21,"c":1,"x":0.2769,"y":0.6502},{"s":"L10","e":1.21,"c":1,"x":0.2811,"y":0.6038},{"s":"L10","e":1.21,"c":1,"x":0.2827,"y":0.5532},{"s":"L10","e":1.21,"c":1,"x":0.2827,"y":0.511},{"s":"L10","e":1.21,"c":1,"x":0.282,"y":0.4688},{"s":"L10","e":1.21,"c":1,"x":0.2778,"y":0.4266},{"s":"L10","e":1.21,"c":1,"x":0.2762,"y":0.4477},{"s":"L10","e":1.21,"c":1,"x":0.2778,"y":0.511},{"s":"L10","e":1.21,"c":1,"x":0.2762,"y":0.6123},
{"s":"B0","e":0.9955,"x":-0.0195,"y":0.7102},{"s":"B0","e":0.9955,"x":0.0314,"y":0.703},{"s":"B0","e":0.9955,"x":0.0861,"y":0.6945},{"s":"B0","e":0.9955,"x":0.128,"y":0.6819},{"s":"B0","e":0.9955,"x":0.1635,"y":0.6671},{"s":"B0","e":0.9955,"x":0.186,"y":0.6629},{"s":"B0","e":0.9955,"x":0.2005,"y":0.6376},{"s":"B0","e":0.9955,"x":0.2086,"y":0.5996},{"s":"B0","e":0.9955,"x":0.2118,"y":0.5532},{"s":"B0","e":0.9955,"x":0.2134,"y":0.511},{"s":"B0","e":0.9955,"x":0.2118,"y":0.4266},{"s":"B0","e":0.9955,"x":0.2053,"y":0.3844},{"s":"B0","e":0.9955,"x":0.1908,"y":0.3612},{"s":"B0","e":0.9955,"x":0.1635,"y":0.3549},{"s":"B0","e":0.9955,"x":0.1119,"y":0.3338},{"s":"B0","e":0.9955,"x":0.0314,"y":0.3106},{"s":"B0","e":0.9955,"x":-0.0179,"y":0.3064},
{"s":"BL","e":0.9956,"c":2,"x":-0.0195,"y":0.6988},{"s":"BL","e":0.9956,"c":2,"x":0.0314,"y":0.6945},{"s":"BL","e":0.9956,"c":2,"x":0.0861,"y":0.6861},{"s":"BL","e":0.9956,"c":2,"x":0.128,"y":0.6734},{"s":"BL","e":0.9956,"c":2,"x":0.1635,"y":0.6587},{"s":"BL","e":0.9956,"c":2,"x":0.1828,"y":0.6595},{"s":"BL","e":0.9956,"c":2,"x":0.1973,"y":0.6376},{"s":"BL","e":0.9956,"c":2,"x":0.2053,"y":0.5996},{"s":"BL","e":0.9956,"c":2,"x":0.2102,"y":0.5532},{"s":"BL","e":0.9956,"c":2,"x":0.2124,"y":0.511},{"s":"BL","e":0.9956,"c":2,"x":0.2102,"y":0.4266},{"s":"BL","e":0.9956,"c":2,"x":0.2037,"y":0.3886},{"s":"BL","e":0.9956,"c":2,"x":0.1892,"y":0.3654},{"s":"BL","e":0.9956,"c":2,"x":0.1635,"y":0.3625},{"s":"BL","e":0.9956,"c":2,"x":0.1377,"y":0.3486},{"s":"BL","e":0.9956,"c":2,"x":0.0958,"y":0.3338},{"s":"BL","e":0.9956,"c":2,"x":0.0314,"y":0.3199},{"s":"BL","e":0.9956,"c":2,"x":-0.0179,"y":0.3161},
{"s":"B1","e":0.985,"x":-0.0179,"y":0.6861},{"s":"B1","e":0.985,"x":0.0475,"y":0.6798},{"s":"B1","e":0.985,"x":0.1119,"y":0.6671},{"s":"B1","e":0.985,"x":0.1635,"y":0.6545},{"s":"B1","e":0.985,"x":0.1828,"y":0.6523},{"s":"B1","e":0.985,"x":0.1957,"y":0.6333},{"s":"B1","e":0.985,"x":0.2037,"y":0.5954},{"s":"B1","e":0.985,"x":0.207,"y":0.5532},{"s":"B1","e":0.985,"x":0.2086,"y":0.511},{"s":"B1","e":0.985,"x":0.207,"y":0.4266},{"s":"B1","e":0.985,"x":0.2005,"y":0.3908},{"s":"B1","e":0.985,"x":0.186,"y":0.3718},{"s":"B1","e":0.985,"x":0.1635,"y":0.376},{"s":"B1","e":0.985,"x":0.1119,"y":0.3549},{"s":"B1","e":0.985,"x":0.0314,"y":0.3422},{"s":"B1","e":0.985,"x":-0.017,"y":0.338},
{"s":"B2","e":0.972,"x":-0.0153,"y":0.6502},{"s":"B2","e":0.972,"x":0.0797,"y":0.646},{"s":"B2","e":0.972,"x":0.1441,"y":0.6376},{"s":"B2","e":0.972,"x":0.1828,"y":0.6333},{"s":"B2","e":0.972,"x":0.1957,"y":0.5996},{"s":"B2","e":0.972,"x":0.2005,"y":0.5532},{"s":"B2","e":0.972,"x":0.2028,"y":0.511},{"s":"B2","e":0.972,"x":0.2005,"y":0.4266},{"s":"B2","e":0.972,"x":0.1925,"y":0.3886},{"s":"B2","e":0.972,"x":0.1635,"y":0.3844},{"s":"B2","e":0.972,"x":0.0797,"y":0.3844},{"s":"B2","e":0.972,"x":-0.0153,"y":0.376},
{"s":"B3","e":0.964,"x":-0.0147,"y":0.6038},{"s":"B3","e":0.964,"x":0.0636,"y":0.5996},{"s":"B3","e":0.964,"x":0.128,"y":0.587},{"s":"B3","e":0.964,"x":0.1602,"y":0.6038},{"s":"B3","e":0.964,"x":0.1828,"y":0.6165},{"s":"B3","e":0.964,"x":0.1957,"y":0.5912},{"s":"B3","e":0.964,"x":0.1989,"y":0.5532},{"s":"B3","e":0.964,"x":0.2005,"y":0.511},{"s":"B3","e":0.964,"x":0.1983,"y":0.4266},{"s":"B3","e":0.964,"x":0.1908,"y":0.3971},{"s":"B3","e":0.964,"x":0.1764,"y":0.3971},{"s":"B3","e":0.964,"x":0.1119,"y":0.4076},{"s":"B3","e":0.964,"x":-0.0147,"y":0.4097},
{"s":"B4","e":0.957,"x":0.0604,"y":0.5532},{"s":"B4","e":0.957,"x":0.1119,"y":0.5785},{"s":"B4","e":0.957,"x":0.1602,"y":0.5996},{"s":"B4","e":0.957,"x":0.1812,"y":0.6101},{"s":"B4","e":0.957,"x":0.1941,"y":0.5827},{"s":"B4","e":0.957,"x":0.1983,"y":0.5532},{"s":"B4","e":0.957,"x":0.1995,"y":0.511},{"s":"B4","e":0.957,"x":0.1963,"y":0.4351},{"s":"B4","e":0.957,"x":0.1828,"y":0.4076},{"s":"B4","e":0.957,"x":0.1538,"y":0.4224},{"s":"B4","e":0.957,"x":0.1119,"y":0.4351},{"s":"B4","e":0.957,"x":0.0604,"y":0.4351},{"s":"B4","e":0.957,"x":0.0378,"y":0.4604},{"s":"B4","e":0.957,"x":0.0378,"y":0.5237},
{"s":"B5","e":0.945,"c":1,"x":0.1055,"y":0.5532},{"s":"B5","e":0.945,"c":1,"x":0.128,"y":0.5764},{"s":"B5","e":0.945,"c":1,"x":0.1474,"y":0.5891},{"s":"B5","e":0.945,"c":1,"x":0.1602,"y":0.5891},{"s":"B5","e":0.945,"c":1,"x":0.1812,"y":0.6072},{"s":"B5","e":0.945,"c":1,"x":0.1925,"y":0.5912},{"s":"B5","e":0.945,"c":1,"x":0.2005,"y":0.5532},{"s":"B5","e":0.945,"c":1,"x":0.2015,"y":0.511},{"s":"B5","e":0.945,"c":1,"x":0.1989,"y":0.4435},{"s":"B5","e":0.945,"c":1,"x":0.1892,"y":0.4118},{"s":"B5","e":0.945,"c":1,"x":0.1812,"y":0.4089},{"s":"B5","e":0.945,"c":1,"x":0.1635,"y":0.4266},{"s":"B5","e":0.945,"c":1,"x":0.149,"y":0.4266},{"s":"B5","e":0.945,"c":1,"x":0.1264,"y":0.4414},{"s":"B5","e":0.945,"c":1,"x":0.1055,"y":0.4604},{"s":"B5","e":0.945,"c":1,"x":0.091,"y":0.4983},{"s":"B5","e":0.945,"c":1,"x":0.0926,"y":0.5279},
{"s":"B6","e":0.935,"x":0.1441,"y":0.5532},{"s":"B6","e":0.935,"x":0.178,"y":0.587},{"s":"B6","e":0.935,"x":0.1957,"y":0.5574},{"s":"B6","e":0.935,"x":0.1983,"y":0.511},{"s":"B6","e":0.935,"x":0.1941,"y":0.4477},{"s":"B6","e":0.935,"x":0.1828,"y":0.4224},{"s":"B6","e":0.935,"x":0.1699,"y":0.4477},{"s":"B6","e":0.935,"x":0.1441,"y":0.4688},{"s":"B6","e":0.935,"x":0.1216,"y":0.4983},{"s":"B6","e":0.935,"x":0.1248,"y":0.5363},
{"s":"B7","e":0.925,"x":0.1441,"y":0.511},{"s":"B7","e":0.925,"x":0.1602,"y":0.5448},{"s":"B7","e":0.925,"x":0.1764,"y":0.5785},{"s":"B7","e":0.925,"x":0.1941,"y":0.5363},{"s":"B7","e":0.925,"x":0.1957,"y":0.511},{"s":"B7","e":0.925,"x":0.1908,"y":0.4519},{"s":"B7","e":0.925,"x":0.1828,"y":0.4393},{"s":"B7","e":0.925,"x":0.1699,"y":0.4646},{"s":"B7","e":0.925,"x":0.1474,"y":0.4899},
{"s":"B8","e":0.91,"c":1,"x":0.1796,"y":0.5481},{"s":"B8","e":0.91,"c":1,"x":0.1876,"y":0.5321},{"s":"B8","e":0.91,"c":1,"x":0.1899,"y":0.5068},{"s":"B8","e":0.91,"c":1,"x":0.1876,"y":0.4773},{"s":"B8","e":0.91,"c":1,"x":0.1802,"y":0.4633},{"s":"B8","e":0.91,"c":1,"x":0.1731,"y":0.473},{"s":"B8","e":0.91,"c":1,"x":0.1683,"y":0.5068},{"s":"B8","e":0.91,"c":1,"x":0.1715,"y":0.5321}
],
"meshA":[{"x":-0.04,"x2":1.0,"y":0.03,"y2":0.051},{"x":-0.04,"x2":1.0,"y":0.062,"y2":0.083},{"x":-0.04,"x2":1.0,"y":0.093,"y2":0.114},{"x":-0.04,"x2":1.0,"y":0.125,"y2":0.146},{"x":-0.04,"x2":1.0,"y":0.156,"y2":0.177},{"x":-0.04,"x2":1.0,"y":0.188,"y2":0.209},{"x":-0.04,"x2":1.0,"y":0.219,"y2":0.24},{"x":-0.04,"x2":1.0,"y":0.251,"y2":0.272},{"x":-0.04,"x2":1.0,"y":0.282,"y2":0.303},{"x":-0.04,"x2":1.0,"y":0.314,"y2":0.335},{"x":-0.04,"x2":1.0,"y":0.345,"y2":0.366},{"x":-0.04,"x2":1.0,"y":0.377,"y2":0.398},{"x":-0.04,"x2":1.0,"y":0.408,"y2":0.429},{"x":-0.04,"x2":1.0,"y":0.44,"y2":0.461},{"x":-0.04,"x2":1.0,"y":0.471,"y2":0.492},{"x":-0.04,"x2":1.0,"y":0.503,"y2":0.524},{"x":-0.04,"x2":1.0,"y":0.534,"y2":0.555},{"x":-0.04,"x2":1.0,"y":0.566,"y2":0.587},{"x":-0.04,"x2":1.0,"y":0.597,"y2":0.618},{"x":-0.04,"x2":1.0,"y":0.629,"y2":0.65},{"x":-0.04,"x2":1.0,"y":0.66,"y2":0.681},{"x":-0.04,"x2":1.0,"y":0.692,"y2":0.713},{"x":-0.04,"x2":1.0,"y":0.723,"y2":0.744},{"x":-0.04,"x2":1.0,"y":0.755,"y2":0.776},{"x":-0.04,"x2":1.0,"y":0.786,"y2":0.807},{"x":-0.04,"x2":1.0,"y":0.818,"y2":0.839},{"x":-0.04,"x2":1.0,"y":0.849,"y2":0.87},{"x":-0.04,"x2":1.0,"y":0.881,"y2":0.902},{"x":-0.04,"x2":1.0,"y":0.912,"y2":0.933},{"x":-0.04,"x2":1.0,"y":0.944,"y2":0.965},{"x":-0.04,"x2":1.0,"y":0.975,"y2":0.996},{"x":-0.04,"x2":1.0,"y":1.007,"y2":1.028},{"x":-0.04,"x2":1.0,"y":1.038,"y2":1.059}],
"meshB":[{"x":-0.02,"x2":1.01,"y":0.02,"y2":0.037},{"x":-0.02,"x2":1.01,"y":0.051,"y2":0.068},{"x":-0.02,"x2":1.01,"y":0.082,"y2":0.099},{"x":-0.02,"x2":1.01,"y":0.113,"y2":0.13},{"x":-0.02,"x2":1.01,"y":0.144,"y2":0.161},{"x":-0.02,"x2":1.01,"y":0.175,"y2":0.192},{"x":-0.02,"x2":1.01,"y":0.206,"y2":0.223},{"x":-0.02,"x2":1.01,"y":0.237,"y2":0.254},{"x":-0.02,"x2":1.01,"y":0.268,"y2":0.285},{"x":-0.02,"x2":1.01,"y":0.299,"y2":0.316},{"x":-0.02,"x2":1.01,"y":0.33,"y2":0.347},{"x":-0.02,"x2":1.01,"y":0.361,"y2":0.378},{"x":-0.02,"x2":1.01,"y":0.392,"y2":0.409},{"x":-0.02,"x2":1.01,"y":0.423,"y2":0.44},{"x":-0.02,"x2":1.01,"y":0.454,"y2":0.471},{"x":-0.02,"x2":1.01,"y":0.485,"y2":0.502},{"x":-0.02,"x2":1.01,"y":0.516,"y2":0.533},{"x":-0.02,"x2":1.01,"y":0.547,"y2":0.564},{"x":-0.02,"x2":1.01,"y":0.578,"y2":0.595},{"x":-0.02,"x2":1.01,"y":0.609,"y2":0.626},{"x":-0.02,"x2":1.01,"y":0.64,"y2":0.657},{"x":-0.02,"x2":1.01,"y":0.671,"y2":0.688},{"x":-0.02,"x2":1.01,"y":0.702,"y2":0.719},{"x":-0.02,"x2":1.01,"y":0.733,"y2":0.75},{"x":-0.02,"x2":1.01,"y":0.764,"y2":0.781},{"x":-0.02,"x2":1.01,"y":0.795,"y2":0.812},{"x":-0.02,"x2":1.01,"y":0.826,"y2":0.843},{"x":-0.02,"x2":1.01,"y":0.857,"y2":0.874},{"x":-0.02,"x2":1.01,"y":0.888,"y2":0.905},{"x":-0.02,"x2":1.01,"y":0.919,"y2":0.936},{"x":-0.02,"x2":1.01,"y":0.95,"y2":0.967},{"x":-0.02,"x2":1.01,"y":0.981,"y2":0.998},{"x":-0.02,"x2":1.01,"y":1.012,"y2":1.029}],
"blackA":[{"x":-0.1121,"y":1.1669,"x2":1.0413,"y2":1.207},{"x":-0.1121,"y":1.1669,"x2":-0.0413,"y2":1.066},{"x":1.0413,"y":1.207,"x2":1.0042,"y2":1.088},{"x":-0.1121,"y":1.1669,"x2":-0.1164,"y2":-0.0194},{"x":-0.1164,"y":-0.0194,"x2":-0.0455,"y2":-0.0065},{"x":0.0,"x2":0.0,"y":-0.009,"y2":-0.024},{"x":0.2,"x2":0.2,"y":-0.005,"y2":-0.02},{"x":0.4,"x2":0.4,"y":-0.001,"y2":-0.016},{"x":0.6,"x2":0.6,"y":0.003,"y2":-0.012},{"x":0.8,"x2":0.8,"y":0.008,"y2":-0.008},{"x":1.0,"x2":1.0,"y":0.012,"y2":-0.004},{"x":0.1,"x2":0.1,"y":-0.006,"y2":-0.016},{"x":0.3,"x2":0.3,"y":-0.002,"y2":-0.012},{"x":0.5,"x2":0.5,"y":0.001,"y2":-0.009},{"x":0.7,"x2":0.7,"y":0.005,"y2":-0.005},{"x":0.9,"x2":0.9,"y":0.008,"y2":-0.002}],
"greyA":[{"x":0.1172,"y":1.1734,"x2":0.1686,"y2":1.0634},{"x":0.3491,"y":1.1746,"x2":0.3769,"y2":1.0699},{"x":0.581,"y":1.1876,"x2":0.5852,"y2":1.0776},{"x":0.8128,"y":1.194,"x2":0.7943,"y2":1.0828},{"x":-0.1105,"y":0.9288,"x2":-0.0413,"y2":0.8538},{"x":-0.1121,"y":0.696,"x2":-0.0371,"y2":0.6404},{"x":-0.1121,"y":0.4592,"x2":-0.0371,"y2":0.4243},{"x":-0.1147,"y":0.2199,"x2":-0.0413,"y2":0.2096}],
"blackB":[{"x":-0.0774,"y":1.1253,"x2":1.0892,"y2":1.1367},{"x":-0.0774,"y":1.1253,"x2":-0.0219,"y2":1.0304},{"x":1.0892,"y":1.1367,"x2":1.0084,"y2":1.043},{"x":1.0892,"y":1.1367,"x2":1.1052,"y2":-0.0329},{"x":1.1052,"y":-0.0329,"x2":1.021,"y2":0.0101},{"x":0.0,"x2":0.0,"y":-0.014,"y2":-0.022},{"x":0.2,"x2":0.2,"y":-0.009,"y2":-0.017},{"x":0.4,"x2":0.4,"y":-0.005,"y2":-0.013},{"x":0.6,"x2":0.6,"y":0.0,"y2":-0.008},{"x":0.8,"x2":0.8,"y":0.004,"y2":-0.004},{"x":1.0,"x2":1.0,"y":0.009,"y2":0.001}],
"greyB":[{"x":-0.0673,"y":1.1114,"x2":1.0774,"y2":1.1139},{"x":1.0774,"y":1.1139,"x2":1.0926,"y2":-0.0215},{"x":1.0118,"y":0.8367,"x2":1.09,"y2":0.9},{"x":1.0143,"y":0.6316,"x2":1.0926,"y2":0.6709},{"x":1.0168,"y":0.4253,"x2":1.0985,"y2":0.438},{"x":1.0194,"y":0.2165,"x2":1.101,"y2":0.2025},{"x":0.16,"y":1.124,"x2":0.186,"y2":1.0354},{"x":0.3746,"y":1.1253,"x2":0.3914,"y2":1.0367},{"x":0.5892,"y":1.1266,"x2":0.5976,"y2":1.0392},{"x":0.8039,"y":1.1278,"x2":0.8039,"y2":1.0405}],
"rays":[{"e":1.1,"x":-0.0652,"y":0.774,"x2":-0.0313,"y2":0.7482},{"e":1.1,"x":-0.0577,"y":0.7783,"x2":-0.0257,"y2":0.7525},{"e":1.1,"x":-0.052,"y":0.7482,"x2":-0.0351,"y2":0.7309},{"e":1.065,"x":-0.045,"y":0.76,"x2":-0.0313,"y2":0.7482},{"e":1.065,"x":-0.04,"y":0.765,"x2":-0.0257,"y2":0.7525}],
"zig":[{"x":-0.0313,"x2":-0.005,"y":0.762,"y2":0.758},{"x":-0.0313,"x2":-0.005,"y":0.7503,"y2":0.7503},{"x":-0.0313,"x2":-0.005,"y":0.7396,"y2":0.7396},{"x":-0.0313,"x2":-0.004,"y":0.7288,"y2":0.7288},{"x":-0.0313,"x2":-0.002,"y":0.718,"y2":0.718},{"x":-0.0313,"x2":-0.005,"y":0.7072,"y2":0.7072},{"x":-0.03,"x2":-0.005,"y":0.6973,"y2":0.6973},{"x":-0.028,"x2":-0.005,"y":0.6856,"y2":0.6856},{"x":-0.028,"x2":-0.006,"y":0.6749,"y2":0.6749},{"x":-0.026,"x2":-0.02,"y":0.6641,"y2":0.6641},{"x":-0.0249,"x2":-0.0264,"y":0.8215,"y2":0.7654}],
"labA":[{"x":0.4958,"y":-0.3855,"t":"(a)"}],
"labB":[{"x":0.5412,"y":-0.3646,"t":"(b)"}],
"bar":[{"e":0.8875,"lo":0.885,"hi":0.8905},{"e":0.8925,"lo":0.89,"hi":0.8955},{"e":0.8975,"lo":0.895,"hi":0.9005},{"e":0.9025,"lo":0.9,"hi":0.9055},{"e":0.9075,"lo":0.905,"hi":0.9105},{"e":0.9125,"lo":0.91,"hi":0.9155},{"e":0.9175,"lo":0.915,"hi":0.9205},{"e":0.9225,"lo":0.92,"hi":0.9255},{"e":0.9275,"lo":0.925,"hi":0.9305},{"e":0.9325,"lo":0.93,"hi":0.9355},{"e":0.9375,"lo":0.935,"hi":0.9405},{"e":0.9425,"lo":0.94,"hi":0.9455},{"e":0.9475,"lo":0.945,"hi":0.9505},{"e":0.9525,"lo":0.95,"hi":0.9555},{"e":0.9575,"lo":0.955,"hi":0.9605},{"e":0.9625,"lo":0.96,"hi":0.9655},{"e":0.9675,"lo":0.965,"hi":0.9705},{"e":0.9725,"lo":0.97,"hi":0.9755},{"e":0.9775,"lo":0.975,"hi":0.9805},{"e":0.9825,"lo":0.98,"hi":0.9855},{"e":0.9875,"lo":0.985,"hi":0.9905},{"e":0.9925,"lo":0.99,"hi":0.9955},{"e":0.9975,"lo":0.995,"hi":1.0005},{"e":1.015,"lo":1.0,"hi":1.0355},{"e":1.0375,"lo":1.035,"hi":1.0405},{"e":1.0425,"lo":1.04,"hi":1.0455},{"e":1.0475,"lo":1.045,"hi":1.0505},{"e":1.0525,"lo":1.05,"hi":1.0555},{"e":1.0575,"lo":1.055,"hi":1.0605},{"e":1.0625,"lo":1.06,"hi":1.0655},{"e":1.0675,"lo":1.065,"hi":1.0705},{"e":1.0725,"lo":1.07,"hi":1.0755},{"e":1.0775,"lo":1.075,"hi":1.0805},{"e":1.0825,"lo":1.08,"hi":1.0855},{"e":1.0875,"lo":1.085,"hi":1.0905},{"e":1.0925,"lo":1.09,"hi":1.0955},{"e":1.0975,"lo":1.095,"hi":1.1005},{"e":1.1025,"lo":1.1,"hi":1.1055},{"e":1.1075,"lo":1.105,"hi":1.1105},{"e":1.1125,"lo":1.11,"hi":1.1155},{"e":1.1175,"lo":1.115,"hi":1.1205},{"e":1.16,"lo":1.12,"hi":1.1955},{"e":1.1975,"lo":1.195,"hi":1.2005},{"e":1.2025,"lo":1.2,"hi":1.2055},{"e":1.2075,"lo":1.205,"hi":1.2105},{"e":1.2125,"lo":1.21,"hi":1.2155},{"e":1.2175,"lo":1.215,"hi":1.2205},{"e":1.2225,"lo":1.22,"hi":1.2255},{"e":1.2275,"lo":1.225,"hi":1.2305},{"e":1.2325,"lo":1.23,"hi":1.2355},{"e":1.2375,"lo":1.235,"hi":1.2405},{"e":1.2425,"lo":1.24,"hi":1.2455},{"e":1.2475,"lo":1.245,"hi":1.25}]
},
"hconcat":[
{"width":1580,"height":1282,
"encoding":{
"x":{"field":"x","type":"quantitative","scale":{"domain":[-0.2538,1.0784],"nice":false,"zero":false},"axis":{"values":[0,0.2,0.4,0.6,0.8,1.0],"format":".1f","grid":false,"domain":false,"ticks":false,"offset":-336,"labelAngle":90,"labelFont":"Liberation Sans","labelFontSize":54,"labelColor":"#000","labelPadding":30,"title":"Length, x","titleFont":"Liberation Serif","titleFontWeight":"bold","titleFontSize":70,"titleColor":"#000","titleX":892,"titleY":178,"titleAlign":"center","titleBaseline":"alphabetic"}},
"y":{"field":"y","type":"quantitative","scale":{"domain":[-0.436,1.2225],"nice":false,"zero":false},"axis":{"values":[0,0.2,0.4,0.6,0.8,1.0],"format":".1f","grid":false,"domain":false,"ticks":false,"offset":-240,"labelFont":"Liberation Sans","labelFontSize":54,"labelColor":"#000","labelPadding":12,"title":"Width, y","titleFont":"Liberation Serif","titleFontWeight":"bold","titleFontSize":70,"titleColor":"#000","titleAngle":90,"titleX":-190,"titleY":555,"titleAlign":"center","titleBaseline":"alphabetic"}}
},
"layer":[
{"data":{"name":"greyA"},"mark":{"type":"rule","stroke":"#dddddd","strokeWidth":1.5},"encoding":{"x2":{"field":"x2"},"y2":{"field":"y2"}}},
{"data":{"name":"surfA"},"transform":[{"window":[{"op":"row_number","as":"i"}]}],"mark":{"type":"line","interpolate":"linear-closed","fill":"#00ff00","stroke":"#00ff00","strokeWidth":1},"encoding":{"order":{"field":"i","type":"quantitative"}}},
{"data":{"name":"polyA"},"transform":[{"window":[{"op":"row_number","as":"i"}]}],"mark":{"type":"line","interpolate":"cardinal-closed","tension":0.3,"strokeWidth":0},"encoding":{"order":{"field":"i","type":"quantitative"},"detail":{"field":"s"},"fill":{"field":"e","type":"quantitative","legend":null,"scale":{"domain":[0.885,0.898,0.912,0.9235,0.929,0.939,0.949,0.9635,0.976,0.985,0.9964,0.9993,1.035,1.036,1.046,1.058,1.069,1.08,1.09,1.1,1.11,1.118,1.12,1.195,1.2035,1.232,1.25],"range":["#700070","#9000a8","#8000e0","#7000ff","#2000ff","#0000ff","#0050ff","#00a0ff","#00d8ff","#00ffff","#00ff80","#00ff00","#00ff00","#80ff00","#a8ff00","#e0ff00","#ffff00","#ffd000","#ffb000","#ff8c00","#ff5500","#ff3000","#ff0000","#ff0000","#ea0000","#a00000","#6b0000"]}}}},
{"data":{"name":"rays"},"mark":{"type":"rule","strokeWidth":4},"encoding":{"x2":{"field":"x2"},"y2":{"field":"y2"},"stroke":{"field":"e","type":"quantitative","legend":null,"scale":{"domain":[1.065,1.1],"range":["#ffff00","#ff6000"]}}}},
{"data":{"name":"meshA"},"mark":{"type":"rule","stroke":"#006a40","strokeWidth":1.2,"opacity":0.22},"encoding":{"x2":{"field":"x2"},"y2":{"field":"y2"}}},
{"data":{"name":"polyA"},"transform":[{"window":[{"op":"row_number","as":"i"}]},{"filter":"datum.c==1"}],"mark":{"type":"line","interpolate":"cardinal-closed","tension":0.3,"stroke":"#3f4a4a","strokeWidth":2},"encoding":{"order":{"field":"i","type":"quantitative"},"detail":{"field":"s"}}},
{"data":{"name":"zig"},"mark":{"type":"rule","stroke":"#2a4a3a","strokeWidth":3},"encoding":{"x2":{"field":"x2"},"y2":{"field":"y2"}}},
{"data":{"name":"blackA"},"mark":{"type":"rule","stroke":"#111111","strokeWidth":2.2},"encoding":{"x2":{"field":"x2"},"y2":{"field":"y2"}}},
{"data":{"name":"labA"},"mark":{"type":"text","font":"Liberation Serif","fontWeight":"bold","fontSize":100,"align":"center","baseline":"alphabetic","color":"#000"},"encoding":{"text":{"field":"t"}}}
]},
{"width":1690,"height":1282,
"encoding":{
"x":{"field":"x","type":"quantitative","scale":{"domain":[-0.2567,1.1658],"nice":false,"zero":false},"axis":{"values":[0,0.2,0.4,0.6,0.8,1.0],"format":".1f","grid":false,"domain":false,"ticks":false,"offset":-334,"labelAngle":90,"labelFont":"Liberation Sans","labelFontSize":54,"labelColor":"#000","labelPadding":30,"title":"Length, x","titleFont":"Liberation Serif","titleFontWeight":"bold","titleFontSize":70,"titleColor":"#000","titleX":904,"titleY":174,"titleAlign":"center","titleBaseline":"alphabetic"}},
"y":{"field":"y","type":"quantitative","scale":{"domain":[-0.4241,1.1987],"nice":false,"zero":false},"axis":{"values":[0,0.2,0.4,0.6,0.8,1.0],"format":".1f","grid":false,"domain":false,"ticks":false,"offset":-235,"labelFont":"Liberation Sans","labelFontSize":54,"labelColor":"#000","labelPadding":13,"title":"Width, y","titleFont":"Liberation Serif","titleFontWeight":"bold","titleFontSize":70,"titleColor":"#000","titleAngle":90,"titleX":-203,"titleY":552,"titleAlign":"center","titleBaseline":"alphabetic"}}
},
"layer":[
{"data":{"name":"greyB"},"mark":{"type":"rule","stroke":"#dddddd","strokeWidth":1.5},"encoding":{"x2":{"field":"x2"},"y2":{"field":"y2"}}},
{"data":{"name":"surfB"},"transform":[{"window":[{"op":"row_number","as":"i"}]}],"mark":{"type":"line","interpolate":"linear-closed","fill":"#00ff00","stroke":"#00ff00","strokeWidth":1},"encoding":{"order":{"field":"i","type":"quantitative"}}},
{"data":{"name":"polyB"},"transform":[{"window":[{"op":"row_number","as":"i"}]}],"mark":{"type":"line","interpolate":"cardinal-closed","tension":0.3,"strokeWidth":0},"encoding":{"order":{"field":"i","type":"quantitative"},"detail":{"field":"s"},"fill":{"field":"e","type":"quantitative","legend":null,"scale":{"domain":[0.885,0.898,0.912,0.9235,0.929,0.939,0.949,0.9635,0.976,0.985,0.9964,0.9993,1.035,1.036,1.046,1.058,1.069,1.08,1.09,1.1,1.11,1.118,1.12,1.195,1.2035,1.232,1.25],"range":["#700070","#9000a8","#8000e0","#7000ff","#2000ff","#0000ff","#0050ff","#00a0ff","#00d8ff","#00ffff","#00ff80","#00ff00","#00ff00","#80ff00","#a8ff00","#e0ff00","#ffff00","#ffd000","#ffb000","#ff8c00","#ff5500","#ff3000","#ff0000","#ff0000","#ea0000","#a00000","#6b0000"]}}}},
{"data":{"name":"meshB"},"mark":{"type":"rule","stroke":"#006a40","strokeWidth":1.2,"opacity":0.22},"encoding":{"x2":{"field":"x2"},"y2":{"field":"y2"}}},
{"data":{"name":"polyB"},"transform":[{"window":[{"op":"row_number","as":"i"}]},{"filter":"datum.c==1"}],"mark":{"type":"line","interpolate":"cardinal-closed","tension":0.3,"stroke":"#3f4a4a","strokeWidth":2},"encoding":{"order":{"field":"i","type":"quantitative"},"detail":{"field":"s"}}},
{"data":{"name":"polyB"},"transform":[{"window":[{"op":"row_number","as":"i"}]},{"filter":"datum.c==2"}],"mark":{"type":"line","interpolate":"cardinal","tension":0.3,"stroke":"#3f4a4a","strokeWidth":2},"encoding":{"order":{"field":"i","type":"quantitative"},"detail":{"field":"s"}}},
{"data":{"name":"blackB"},"mark":{"type":"rule","stroke":"#111111","strokeWidth":2.2},"encoding":{"x2":{"field":"x2"},"y2":{"field":"y2"}}},
{"data":{"name":"labB"},"mark":{"type":"text","font":"Liberation Serif","fontWeight":"bold","fontSize":100,"align":"center","baseline":"alphabetic","color":"#000"},"encoding":{"text":{"field":"t"}}}
]},
{"width":340,"height":1282,
"layer":[
{"data":{"name":"bar"},"mark":{"type":"rect"},"encoding":{
"x":{"datum":61,"type":"quantitative","scale":{"domain":[0,340],"nice":false,"zero":false},"axis":null},"x2":{"datum":172},
"y":{"field":"lo","type":"quantitative","scale":{"domain":[0.7428,1.3177],"nice":false,"zero":false},"axis":{"values":[0.885,0.9215,0.958,0.9945,1.031,1.067,1.104,1.141,1.177,1.214,1.25],"labelExpr":"datum.value>=1?format(datum.value,'.3f'):format(datum.value,'.4f')","orient":"right","offset":-160,"grid":false,"domain":false,"ticks":false,"labelFont":"Liberation Serif","labelFontWeight":"bold","labelFontSize":44,"labelColor":"#000","labelPadding":10,"title":null}},"y2":{"field":"hi"},
"fill":{"field":"e","type":"quantitative","legend":null,"scale":{"domain":[0.885,0.898,0.912,0.9235,0.929,0.939,0.949,0.9635,0.976,0.985,0.9964,0.9993,1.035,1.036,1.046,1.058,1.069,1.08,1.09,1.1,1.11,1.118,1.12,1.195,1.2035,1.232,1.25],"range":["#700070","#9000a8","#8000e0","#7000ff","#2000ff","#0000ff","#0050ff","#00a0ff","#00d8ff","#00ffff","#00ff80","#00ff00","#00ff00","#80ff00","#a8ff00","#e0ff00","#ffff00","#ffd000","#ffb000","#ff8c00","#ff5500","#ff3000","#ff0000","#ff0000","#ea0000","#a00000","#6b0000"]}}}},
{"data":{"values":[{"lo":0.8815,"hi":0.885}]},"mark":{"type":"rect","fill":"#888888"},"encoding":{"x":{"datum":61,"type":"quantitative"},"x2":{"datum":172},"y":{"field":"lo","type":"quantitative"},"y2":{"field":"hi"}}},
{"data":{"values":[{"t":"e","v":1.273}]},"mark":{"type":"text","font":"Liberation Serif","fontWeight":"bold","fontStyle":"italic","fontSize":110,"align":"center","baseline":"alphabetic","color":"#000"},"encoding":{"x":{"datum":128,"type":"quantitative"},"y":{"field":"v","type":"quantitative"},"text":{"field":"t"}}}
]}
]
}
